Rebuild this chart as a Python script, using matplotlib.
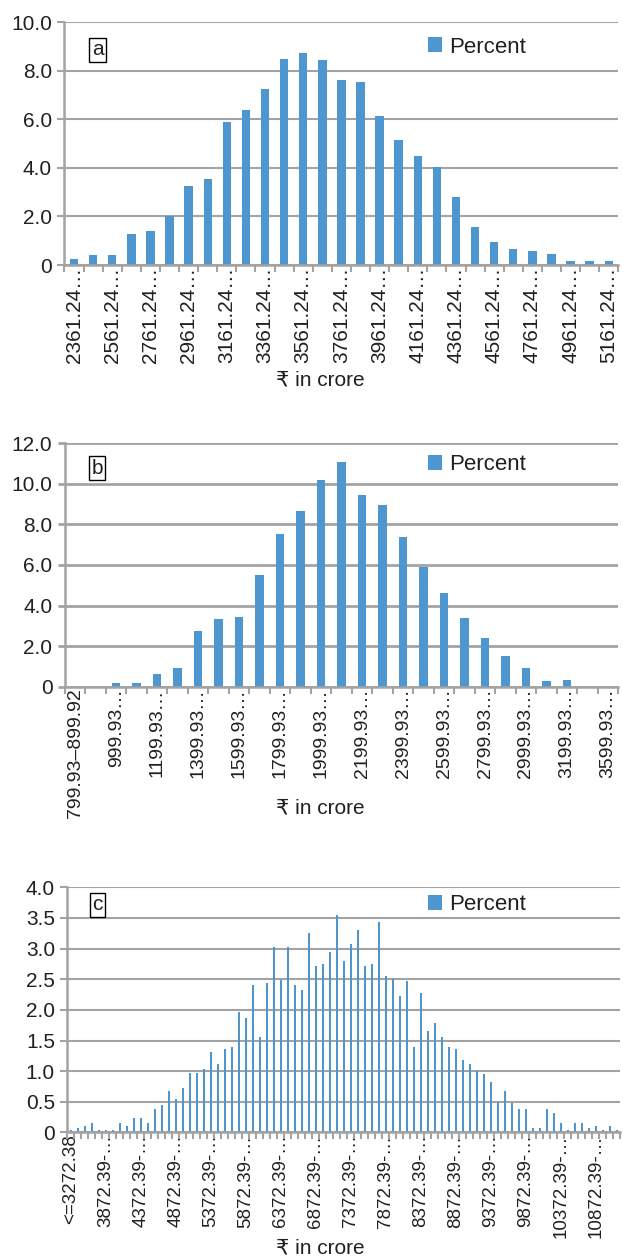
import matplotlib
matplotlib.use("Agg")
import matplotlib.pyplot as plt

plt.rcParams['font.family'] = ['Liberation Sans', 'DejaVu Sans']

BAR_BLUE = '#4e96cf'
GRID_GRAY = '#a3a3a3'
TEXT_COL = '#231f20'

# --- panel a: 29 classes of 100 crore, labelled every 2nd class ---
a_pct = [0.23, 0.40, 0.40, 1.28, 1.39, 2.03, 3.25, 3.54, 5.90, 6.39,
         7.24, 8.50, 8.74, 8.46, 7.61, 7.52, 6.12, 5.13, 4.50, 4.02,
         2.80, 1.56, 0.95, 0.66, 0.56, 0.45, 0.16, 0.16, 0.16]
a_labels = ["2361.24…", "2561.24…", "2761.24…", "2961.24…", "3161.24…",
            "3361.24…", "3561.24…", "3761.24…", "3961.24…", "4161.24…",
            "4361.24…", "4561.24…", "4761.24…", "4961.24…", "5161.24…"]

# --- panel b: 27 classes, labelled every 2nd class ---
b_pct = [0.0, 0.0, 0.17, 0.20, 0.61, 0.91, 2.76, 3.34, 3.45, 5.52,
         7.53, 8.68, 10.19, 11.08, 9.45, 8.97, 7.40, 5.89, 4.61, 3.37,
         2.42, 1.53, 0.92, 0.30, 0.33, 0.0, 0.0]
b_labels = ["799.93–899.92", "999.93…", "1199.93…", "1399.93…", "1599.93…",
            "1799.93…", "1999.93…", "2199.93…", "2399.93…", "2599.93…",
            "2799.93…", "2999.93…", "3199.93…", "3599.93…"]

# --- panel c: 79 classes, labelled every 5th class ---
c_pct = [0.04, 0.07, 0.11, 0.15, 0.04, 0.04, 0.04, 0.15, 0.11, 0.23,
         0.23, 0.15, 0.39, 0.44, 0.68, 0.55, 0.72, 0.97, 0.97, 1.03,
         1.32, 1.12, 1.36, 1.39, 1.97, 1.87, 2.40, 1.56, 2.44, 3.03,
         2.48, 3.03, 2.40, 2.32, 3.26, 2.71, 2.75, 2.95, 3.55, 2.79,
         3.07, 3.31, 2.71, 2.75, 3.43, 2.55, 2.51, 2.23, 2.47, 1.39,
         2.28, 1.66, 1.78, 1.56, 1.39, 1.36, 1.19, 1.11, 1.00, 0.96,
         0.83, 0.50, 0.68, 0.48, 0.39, 0.39, 0.07, 0.07, 0.39, 0.31,
         0.15, 0.04, 0.15, 0.15, 0.07, 0.11, 0.04, 0.11, 0.04]
c_labels = ["<=3272.38", "3872.39-…", "4372.39-…", "4872.39-…", "5372.39-…",
            "5872.39-…", "6372.39-…", "6872.39-…", "7372.39-…", "7872.39-…",
            "8372.39-…", "8872.39-…", "9372.39-…", "9872.39-…", "10372.39-…",
            "10872.39-…"]


def draw_panel(ax, values, labels, step, ytop, ystep, width, letter,
               legend_xy, letter_xy, grid_lw=1.5, xsize=14):
    n = len(values)
    ax.bar(range(n), values, width=width, color=BAR_BLUE, label='Percent', zorder=3)
    ax.set_xlim(-0.5, n - 0.5)
    ax.set_ylim(0, ytop)

    yt = []
    v = 0.0
    while v <= ytop + 1e-9:
        yt.append(round(v, 2))
        v += ystep
    ax.set_yticks(yt)
    ax.set_yticklabels(["0" if t == 0 else f"{t:.1f}" for t in yt])
    ax.yaxis.grid(True, color=GRID_GRAY, lw=grid_lw, zorder=0)
    ax.set_axisbelow(True)

    ax.set_xticks(range(0, n, step))
    ax.set_xticklabels(labels, rotation=90, ha='center', va='top')
    ax.set_xticks([i - 0.5 for i in range(n + 1)], minor=True)
    ax.tick_params(axis='x', which='major', length=0, pad=1.5,
                   labelsize=xsize, labelcolor=TEXT_COL)
    ax.tick_params(axis='x', which='minor', length=5, width=1.5, color=GRID_GRAY)
    ax.tick_params(axis='y', length=5, width=grid_lw, color=GRID_GRAY, pad=4,
                   labelsize=15, labelcolor=TEXT_COL)

    for side in ['top', 'right']:
        ax.spines[side].set_visible(False)
    for side in ['left', 'bottom']:
        ax.spines[side].set_color(GRID_GRAY)
        ax.spines[side].set_linewidth(1.8)
        ax.spines[side].set_zorder(4)

    ax.legend(loc='center left', bbox_to_anchor=legend_xy, frameon=False,
              handlelength=0.65, handleheight=0.65, handletextpad=0.3,
              borderpad=0, borderaxespad=0, fontsize=16,
              labelcolor=TEXT_COL)
    ax.text(letter_xy[0], letter_xy[1], letter, transform=ax.transAxes,
            ha='center', va='center', fontsize=15, color=TEXT_COL,
            bbox=dict(boxstyle='square,pad=0.12', fc='white', ec='black', lw=1))


fig = plt.figure(figsize=(6.23, 12.59), dpi=100)

ax_a = fig.add_axes([0.1035, 0.7895, 0.889, 0.1928])
draw_panel(ax_a, a_pct, a_labels, 2, 10, 2, 0.44, 'a',
           (0.656, 0.898), (0.060, 0.886), xsize=15)

ax_b = fig.add_axes([0.1043, 0.4546, 0.888, 0.1933])
draw_panel(ax_b, b_pct, b_labels, 2, 12, 2, 0.41, 'b',
           (0.656, 0.911), (0.058, 0.898), grid_lw=2.0, xsize=14)

ax_c = fig.add_axes([0.1083, 0.1005, 0.8876, 0.1948])
draw_panel(ax_c, c_pct, c_labels, 5, 4, 0.5, 0.40, 'c',
           (0.652, 0.928), (0.054, 0.928), xsize=13.5)

for yfrac in [0.698, 0.358, 0.0087]:
    fig.text(0.514, yfrac, "₹ in crore", ha='center', va='center',
             fontsize=15, color=TEXT_COL)

fig.savefig('out.png', dpi=100)
